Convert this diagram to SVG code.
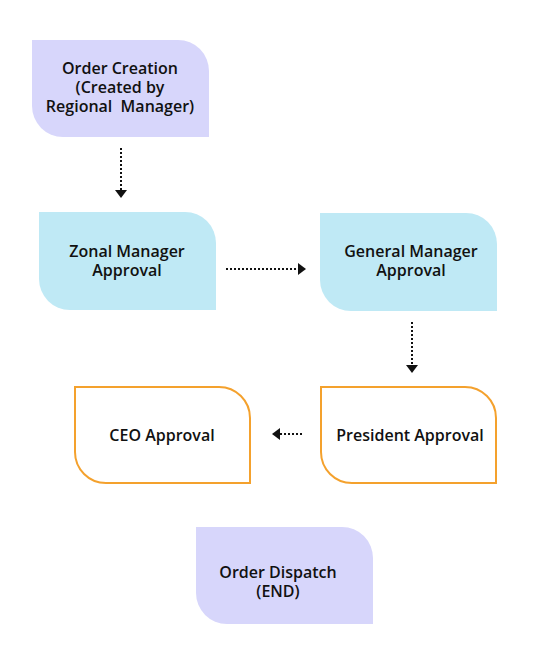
<svg xmlns="http://www.w3.org/2000/svg" width="543" height="665" viewBox="0 0 543 665">
<style>
.lav{fill:#D7D6FB}
.blue{fill:#BFE9F5}
.org{fill:#FFFFFF;stroke:#F4A12D;stroke-width:2}
text{font-family:"Open Sans","Noto Sans",sans-serif;font-size:16px;font-weight:600;fill:#111;text-anchor:middle;dominant-baseline:central;white-space:pre}
.conn{stroke:#111;stroke-width:2;stroke-dasharray:2 2;fill:none}
.head{fill:#111}
</style>
<rect width="543" height="665" fill="#FFFFFF"/>
<g id="order-creation">
<path class="lav" d="M32 40 H178 A31 31 0 0 1 209 71 V137 H63 A31 31 0 0 1 32 106 Z"/>
<text x="120" y="68">Order Creation</text>
<text x="120" y="87">(Created by</text>
<text x="120" y="106" xml:space="preserve">Regional  Manager)</text>
</g>
<g id="zonal">
<path class="blue" d="M39 212 H185 A31 31 0 0 1 216 243 V310 H70 A31 31 0 0 1 39 279 Z"/>
<text x="127" y="251">Zonal Manager</text>
<text x="127" y="270">Approval</text>
</g>
<g id="general">
<path class="blue" d="M320 213 H466 A31 31 0 0 1 497 244 V311 H351 A31 31 0 0 1 320 280 Z"/>
<text x="411" y="251">General Manager</text>
<text x="411" y="270">Approval</text>
</g>
<g id="president">
<path class="org" d="M321 387 H465 A31 31 0 0 1 496 418 V483 H352 A31 31 0 0 1 321 452 Z"/>
<text x="410" y="435">President Approval</text>
</g>
<g id="ceo">
<path class="org" d="M75 387 H219 A31 31 0 0 1 250 418 V483 H106 A31 31 0 0 1 75 452 Z"/>
<text x="162" y="435">CEO Approval</text>
</g>
<g id="dispatch">
<path class="lav" d="M196 527 H342 A31 31 0 0 1 373 558 V624 H227 A31 31 0 0 1 196 593 Z"/>
<text x="278" y="572">Order Dispatch</text>
<text x="278" y="591">(END)</text>
</g>
<g id="connectors">
<line class="conn" x1="121" y1="148" x2="121" y2="190"/>
<polygon class="head" points="115,190 127,190 121,198"/>
<line class="conn" x1="226" y1="269" x2="298" y2="269"/>
<polygon class="head" points="298,263 298,275 306,269"/>
<line class="conn" x1="412" y1="322" x2="412" y2="365"/>
<polygon class="head" points="406,365 418,365 412,373"/>
<line class="conn" x1="302" y1="434" x2="280" y2="434"/>
<polygon class="head" points="280,428 280,440 272,434"/>
</g>
</svg>
